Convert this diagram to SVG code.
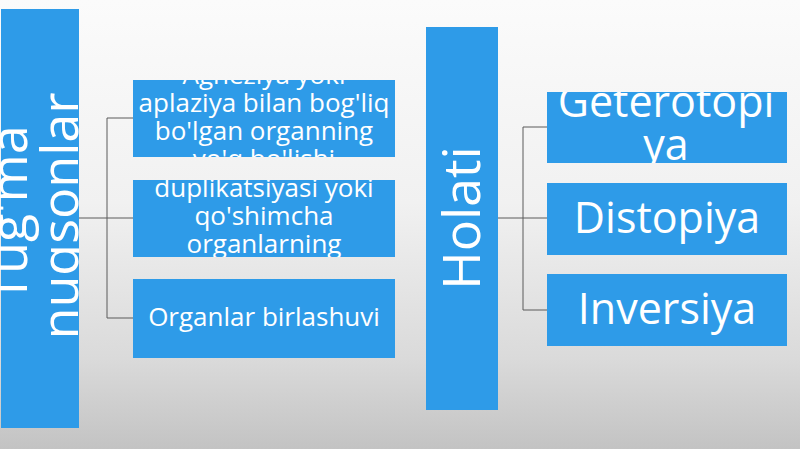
<svg xmlns="http://www.w3.org/2000/svg" width="800" height="449" viewBox="0 0 800 449">
  <defs>
    <linearGradient id="bg" x1="0" y1="0" x2="0" y2="1">
      <stop offset="0" stop-color="#fbfbfb"/>
      <stop offset="0.45" stop-color="#f1f1f1"/>
      <stop offset="0.8" stop-color="#dadada"/>
      <stop offset="1" stop-color="#c3c3c3"/>
    </linearGradient>
    <clipPath id="cA"><rect x="133" y="80" width="262" height="77"/></clipPath>
    <clipPath id="cB"><rect x="133" y="180" width="262" height="77"/></clipPath>
    <clipPath id="cR1"><rect x="547" y="92" width="240" height="71"/></clipPath>
    <clipPath id="cL"><rect x="0" y="9" width="79" height="419"/></clipPath>
  </defs>
  <style>
    .box { fill: #2e9be8; }
    .t { fill: #ffffff; font-family: "Open Sans", "Noto Sans", "DejaVu Sans", sans-serif; text-anchor: middle; }
    .s { font-size: 26px; }
    .m { font-size: 43px; }
    .l { font-size: 52px; }
    .conn { fill: none; stroke: #5a5a5a; stroke-width: 1; }
  </style>
  <rect width="800" height="449" fill="url(#bg)"/>

  <g id="connectors">
    <path class="conn" d="M79 218 H107 M107 118 V318 M107 118 H133 M107 218 H133 M107 318 H133"/>
    <path class="conn" d="M498 218 H523 M523 127 V310 M523 127 H547 M523 218 H547 M523 310 H547"/>
  </g>

  <g id="tugma-nuqsonlar">
    <rect class="box" x="1" y="9" width="78" height="419"/>
    <g clip-path="url(#cL)">
      <text class="t l" transform="translate(27,214) rotate(-90)">Tug'ma</text>
      <text class="t l" transform="translate(78,216) rotate(-90)">nuqsonlar</text>
    </g>
  </g>

  <g id="agneziya">
    <rect class="box" x="133" y="80" width="262" height="77"/>
    <g clip-path="url(#cA)">
      <text class="t s" x="264" y="84">Agneziya yoki</text>
      <text class="t s" x="264" y="112">aplaziya bilan bog'liq</text>
      <text class="t s" x="264" y="140">bo'lgan organning</text>
      <text class="t s" x="264" y="168">yo'q bo'lishi</text>
    </g>
  </g>

  <g id="duplikatsiya">
    <rect class="box" x="133" y="180" width="262" height="77"/>
    <g clip-path="url(#cB)">
      <text class="t s" x="264" y="197">duplikatsiyasi yoki</text>
      <text class="t s" x="264" y="225">qo'shimcha</text>
      <text class="t s" x="264" y="253">organlarning</text>
    </g>
  </g>

  <g id="birlashuvi">
    <rect class="box" x="133" y="279" width="262" height="79"/>
    <text class="t s" x="264" y="326">Organlar birlashuvi</text>
  </g>

  <g id="holati">
    <rect class="box" x="426" y="27" width="72" height="383"/>
    <text class="t l" transform="translate(480,218) rotate(-90)">Holati</text>
  </g>

  <g id="geterotopiya">
    <rect class="box" x="547" y="92" width="240" height="71"/>
    <g clip-path="url(#cR1)">
      <text class="t m" x="666" y="117">Geterotopi</text>
      <text class="t m" x="666" y="160">ya</text>
    </g>
  </g>

  <g id="distopiya">
    <rect class="box" x="547" y="183" width="240" height="72"/>
    <text class="t m" x="667" y="233">Distopiya</text>
  </g>

  <g id="inversiya">
    <rect class="box" x="547" y="274" width="240" height="72"/>
    <text class="t m" x="667" y="324">Inversiya</text>
  </g>
</svg>
